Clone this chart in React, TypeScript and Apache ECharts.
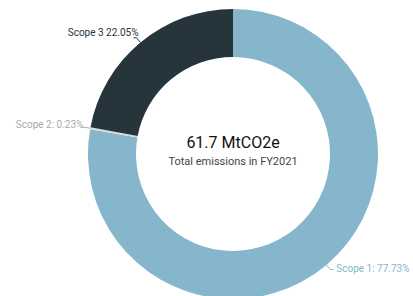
import React, { useEffect, useRef } from "react";
import * as echarts from "echarts";

const categories = ["Scope 1", "Scope 2", "Scope 3"];
const shares = [77.73, 0.23, 22.05];
const labelTexts = ["Scope 1: 77.73%", "Scope 2: 0.23%", "Scope 3 22.05%"];
const colors = ["#86b6cb", "#d4d9dc", "#26343b"];
const labelColors = ["#86b6cb", "#a9a9a9", "#26343b"];
const totalText = "61.7 MtCO2e";
const subText = "Total emissions in FY2021";

const labelShift = [
  [-2, -1],
  [7, -3],
  [10, -5],
];

export default function App() {
  const ref = useRef<HTMLDivElement>(null);
  useEffect(() => {
    document.body.style.margin = "0";
    const chart = echarts.init(ref.current!, null, { renderer: "svg" });
    chart.setOption({
      animation: false,
      textStyle: { fontFamily: "Roboto" },
      graphic: [
        {
          type: "text",
          x: 233,
          y: 142,
          style: {
            text: totalText,
            fontSize: 16,
            fill: "#111",
            fontFamily: "Roboto",
            align: "center",
            verticalAlign: "middle",
          },
        },
        {
          type: "text",
          x: 233,
          y: 161,
          style: {
            text: subText,
            fontSize: 11,
            fill: "#444",
            fontFamily: "Roboto",
            align: "center",
            verticalAlign: "middle",
          },
        },
      ],
      series: [
        {
          type: "pie",
          center: [233, 154],
          radius: [97, 145],
          startAngle: 90,
          clockwise: true,
          avoidLabelOverlap: false,
          data: categories.map((c, i) => ({
            name: c,
            value: shares[i],
            itemStyle: { color: colors[i] },
            label: { color: labelColors[i] },
            labelLine: { lineStyle: { color: labelColors[i] } },
          })),
          label: {
            show: true,
            fontSize: 10,
            fontFamily: "Roboto",
            formatter: (p: any) => labelTexts[p.dataIndex],
          },
          labelLine: { show: true, length: 6, length2: 3 },
          labelLayout: (p: any) => ({
            dx: labelShift[p.dataIndex][0],
            dy: labelShift[p.dataIndex][1],
          }),
          itemStyle: { borderColor: "#fff", borderWidth: 0 },
        },
      ],
    });
    return () => chart.dispose();
  }, []);
  return <div ref={ref} style={{ width: 413, height: 296 }} />;
}
